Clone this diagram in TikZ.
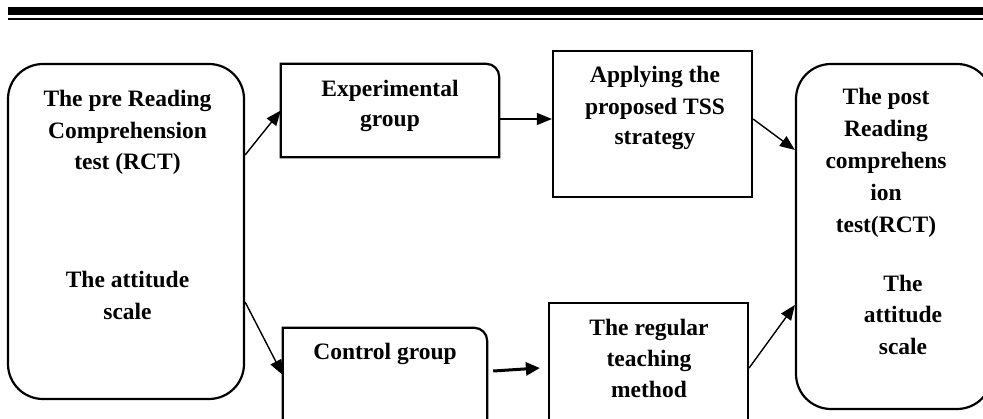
\documentclass[tikz,border=0pt]{standalone}
\usepackage{fontspec}
\setmainfont{Liberation Serif}
\usetikzlibrary{arrows.meta,calc}
\begin{document}
\begin{tikzpicture}[x=1pt,y=-1pt,
  box/.style={draw=black,line width=2.2pt,inner sep=0pt},
  ghost/.style={draw=none,inner sep=0pt},
  txt/.style={anchor=base,inner sep=0pt,font=\fontsize{23.5}{31}\selectfont\bfseries},
  conn/.style={line width=1.4pt,-{Triangle[length=15pt,width=12pt]}},
  thickconn/.style={line width=3pt,-{Triangle[length=14pt,width=13pt]}}]
\clip (0,0) rectangle (983,419);
% header rules
\fill[black] (8,7) rectangle (983,15.5);
\fill[black] (8,18) rectangle (983,20.5);
% boxes
\node[box,rounded corners=35pt,minimum width=236pt,minimum height=335pt] (pre) at (126,231.5) {};
\node[ghost,minimum width=218pt,minimum height=93pt] (exp) at (390,110.5) {};
\draw[line width=2.2pt] (exp.south west) -- (exp.north west) -- ([xshift=-13pt]exp.north east) to[out=0,in=90] ([yshift=-13pt]exp.north east) -- (exp.south east) -- cycle;
\node[box,minimum width=199pt,minimum height=146pt] (apply) at (652.5,124) {};
\node[box,rounded corners=35pt,minimum width=196pt,minimum height=345pt] (post) at (894,236.5) {};
\node[ghost,minimum width=204pt,minimum height=120pt] (ctrl) at (385,388) {};
\draw[line width=2.2pt] (ctrl.south west) -- (ctrl.north west) -- ([xshift=-13pt]ctrl.north east) to[out=0,in=90] ([yshift=-13pt]ctrl.north east) -- (ctrl.south east);
\node[box,minimum width=199pt,minimum height=145pt] (reg) at (648.5,375.5) {};
% texts
\node[txt] (p1) at (127.5,107) {The pre Reading};
\node[txt] (p2) at (127.5,139) {Comprehension};
\node[txt] (p3) at (127.5,170) {test (RCT)};
\node[txt] (p4) at (127.5,288) {The attitude};
\node[txt] (p5) at (127.5,320) {scale};
\node[txt] (e1) at (390,97) {Experimental};
\node[txt] (e2) at (390,127) {group};
\node[txt] (a1) at (655,83) {Applying the};
\node[txt] (a2) at (655,115) {proposed TSS};
\node[txt] (a3) at (655,145) {strategy};
\node[txt] (q1) at (886,105) {The post};
\node[txt] (q2) at (886,137) {Reading};
\node[txt] (q3) at (886,169) {comprehens};
\node[txt] (q4) at (886,201) {ion};
\node[txt] (q5) at (886,233) {test(RCT)};
\node[txt] (q6) at (903,292) {The};
\node[txt] (q7) at (903,323) {attitude};
\node[txt] (q8) at (903,355) {scale};
\node[txt] (c1) at (385,360) {Control group};
\node[txt] (r1) at (649,336) {The regular};
\node[txt] (r2) at (649,367) {teaching};
\node[txt] (r3) at (649,398) {method};
% connectors
\draw[conn] ([yshift=76.5pt]pre.east) -- (exp.west);
\draw[conn] ([yshift=-8.5pt]exp.east) -- ([yshift=5pt]apply.west);
\draw[conn] ([yshift=5pt]apply.east) -- ([yshift=86.5pt]post.west);
\draw[conn] ([yshift=-70.5pt]pre.east) -- ([yshift=13pt]ctrl.west);
\draw[thickconn] ([xshift=6pt,yshift=17pt]ctrl.east) -- ([xshift=-8pt,yshift=7.5pt]reg.west);
\draw[conn] ([yshift=7.5pt]reg.east) -- ([yshift=-68.5pt]post.west);
\end{tikzpicture}
\end{document}
